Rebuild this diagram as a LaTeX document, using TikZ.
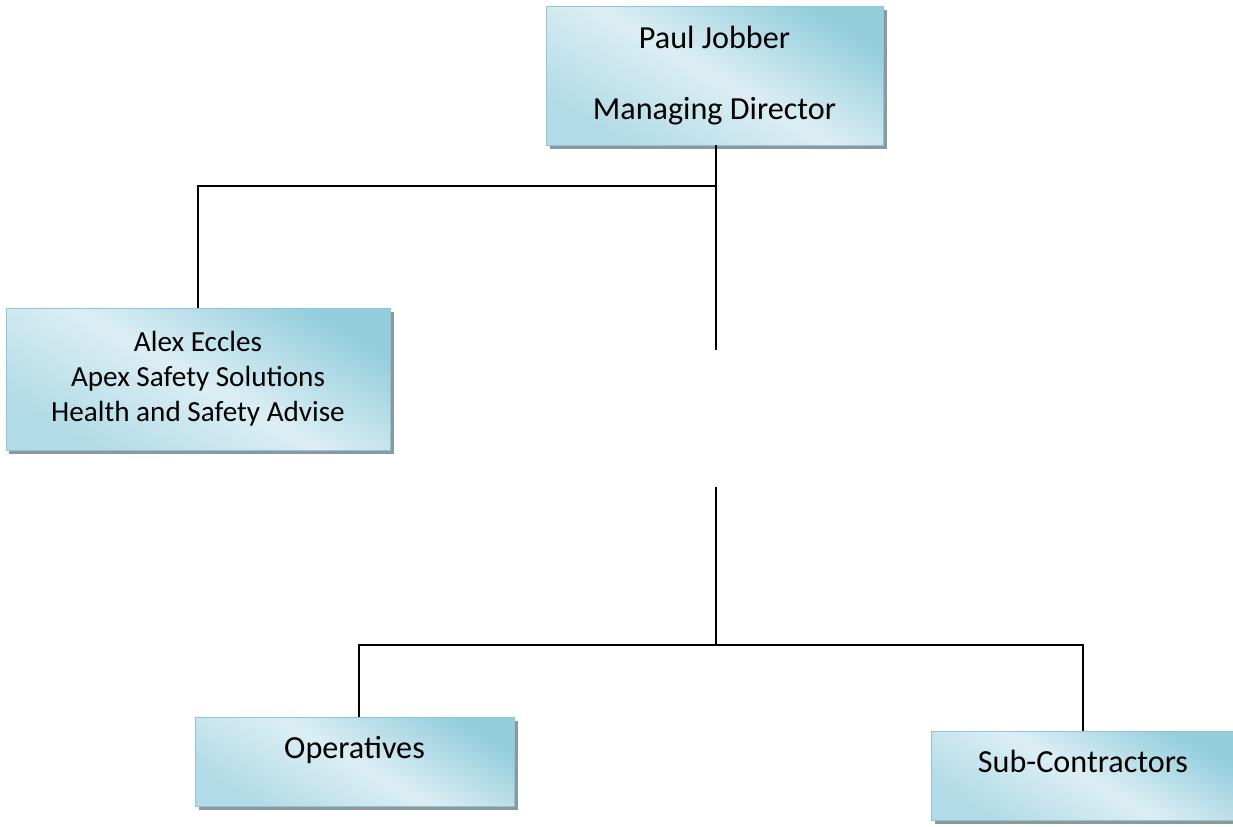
\documentclass[tikz,border=0pt]{standalone}
\usepackage{fontspec}
\setmainfont{Carlito}
\usepackage{xcolor}
\usepackage{tikz}
\usetikzlibrary{positioning,shadows}

\definecolor{boxblue}{HTML}{94CEDD}
\definecolor{boxlight}{HTML}{DCEEF4}
\definecolor{boxedge}{HTML}{8CC6D8}
\definecolor{shadowgray}{HTML}{8D989C}

\begin{document}
\begin{tikzpicture}[
    x=0.2mm, y=-0.2mm,
    staff/.style={
        rectangle, % shape
        inner sep=0pt,
        draw=boxedge, thin, %border
        top color=boxblue,%the filling
        bottom color=boxblue!60!boxlight,
        middle color=boxlight,
        shading angle=-30,
        drop shadow={shadow xshift=0.7mm, shadow yshift=-0.7mm, fill=shadowgray, opacity=1},
        align=center,
        font=\fontsize{18.3}{20}\selectfont %font
      },
    link/.style={
        draw=black,
        line width=1pt}
  ]
  \useasboundingbox (0,0) rectangle (1233,826);
  \node (md) [staff, minimum width=67.4mm, minimum height=27.8mm] at (714.5,75.5)
    {Paul Jobber\\[20pt]Managing Director};
  \node (hse) [staff, minimum width=76.8mm, minimum height=28.4mm,
    font=\fontsize{16.6}{20}\selectfont] at (198,379)
    {Alex Eccles\\Apex Safety Solutions\\Health and Safety Advise};
  \node (ops) [staff, minimum width=63.8mm, minimum height=17.8mm, text depth=16pt] at (354.5,761.5)
    {Operatives};
  \node (sub) [staff, minimum width=60.8mm, minimum height=17.8mm, text depth=16pt] at (1083,775.5)
    {Sub-Contractors};
  % free ends of the broken trunk
  \coordinate (hub) at (716,186);
  \coordinate (gaptop) at (716,350);
  \coordinate (gapbot) at (716,487);
  \coordinate (split) at (716,645);
  \draw[link] (md.south -| hub) -- (hub) -| (hse.north);
  \draw[link] (hub) -- (gaptop);
  \draw[link] (gapbot) -- (split);
  \draw[link] ([xshift=0.9mm]ops.north) |- (split) -| (sub.north);
\end{tikzpicture}
\end{document}
